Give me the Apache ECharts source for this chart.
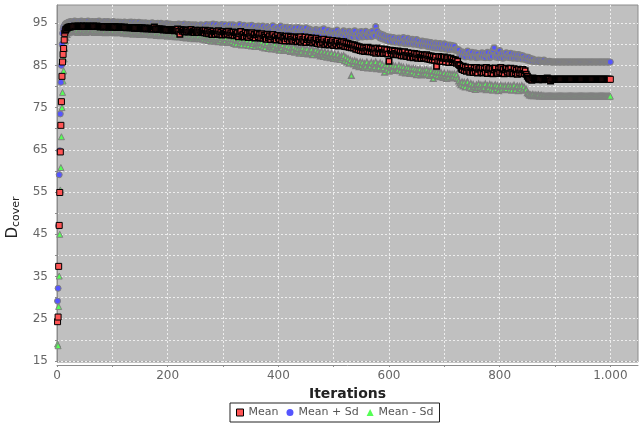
<!DOCTYPE html>
<html>
<head>
<meta charset="utf-8">
<script src="https://cdn.jsdelivr.net/npm/echarts@6/dist/echarts.min.js"></script>
<style>
  html, body { margin: 0; padding: 0; background: #fff; }
  #chart { width: 644px; height: 423px; }
</style>
</head>
<body>
<div id="chart"></div>
<script>
// iterations 1..15 are read one by one, after that every second iteration (16, 18, ... 1000)
const rampIterations = [1, 2, 3, 4, 5, 6, 7, 8, 9, 10, 11, 12, 13, 14, 15];
const bandStart = 16;
const bandStep = 2;

const xLabels = [0, 200, 400, 600, 800, 1000];
const xTicks = [0, 100, 200, 300, 400, 500, 600, 700, 800, 900, 1000];
const yLabels = [15, 25, 35, 45, 55, 65, 75, 85, 95];
const yTicks = [15, 20, 25, 30, 35, 40, 45, 50, 55, 60, 65, 70, 75, 80, 85, 90, 95];

const meanRamp = [24.3, 25.4, 37.4, 47.1, 54.9, 64.5, 70.8, 76.4, 82.4, 85.8, 87.6, 89.0, 91.0, 92.6, 93.2];
const plusRamp = [29.2, 32.2, 47.0, 59.1, 64.8, 73.5, 81.0, 85.0, 90.0, 92.6, 93.6, 94.1, 94.4, 94.6, 94.8];
const minusRamp = [19.0, 18.6, 27.9, 35.1, 45.0, 55.5, 60.8, 68.1, 75.0, 78.6, 81.3, 83.7, 86.5, 89.0, 90.8];

const meanBand = [
  93.5,93.8,94.0,94.1,94.1, 94.2,94.2,94.2,94.3,94.2, 94.2,94.3,94.2,94.2,94.3, 94.2,94.3,94.2,94.2,94.3, 94.2,94.2,94.3,94.2,94.2,
  94.3,94.2,94.2,94.3,94.2, 94.2,94.1,94.2,94.2,94.1, 94.2,94.2,94.1,94.2,94.1, 94.1,94.2,94.1,94.1,94.2, 94.1,94.0,94.1,94.1,94.0,
  94.1,94.0,94.0,94.1,94.0, 93.9,94.0,94.0,93.9,94.0, 93.9,93.9,93.8,93.9,93.9, 93.8,93.9,93.8,93.8,93.9, 93.7,93.8,93.8,93.7,93.8,
  93.7,93.8,93.6,93.7,93.7, 94.1,93.6,93.7,93.5,93.6, 93.6,93.5,93.6,93.4,93.5, 93.5,93.4,93.5,93.3,93.4, 93.5,93.3,93.4,93.2,93.4,
  93.4,93.6,93.1,92.4,93.5, 93.1,93.4,92.9,93.3,93.0, 93.4,92.9,93.2,93.5,92.9, 93.1,92.8,93.3,92.9,93.2, 92.8,93.3,92.9,93.0,93.2,
  92.7,93.3,92.6,93.1,92.5, 93.2,92.8,92.3,93.1,92.6, 92.3,93.0,92.5,93.2,92.4, 92.9,92.2,93.0,92.6,92.3, 92.9,92.4,93.1,92.2,92.7,
  92.2,92.9,92.0,92.8,92.3, 92.7,91.8,92.5,93.0,92.0, 92.4,91.7,92.8,92.1,92.6, 91.6,92.5,92.0,92.7,91.8, 92.3,91.5,92.2,92.6,91.7,
  92.3,91.5,92.5,91.4,92.1, 91.7,91.2,92.4,91.6,92.0, 91.1,91.8,92.3,91.3,91.8, 91.0,92.1,91.5,91.2,92.0, 90.9,91.7,91.4,90.8,91.9,
  91.3,91.9,90.8,91.7,91.2, 90.7,91.8,91.0,91.6,90.6, 91.4,90.9,91.8,90.5,91.2, 90.8,91.7,90.4,91.1,91.6, 90.6,91.0,91.5,90.3,91.0,
  90.6,91.4,90.2,91.0,90.6, 90.0,91.1,90.4,91.2,89.9, 90.6,90.2,91.0,89.8,90.5, 90.1,90.9,89.7,90.4,90.0, 90.8,89.6,90.3,89.9,90.6,
  89.8,90.6,89.5,90.3,89.4, 90.2,89.3,90.0,89.2,89.9, 89.1,89.8,88.8,89.6,88.7, 89.4,88.5,89.3,88.4,89.2, 88.3,89.1,88.5,89.3,88.2,
  89.1,88.2,89.0,88.1,88.9, 87.9,89.1,88.2,88.8,87.9, 88.9,88.1,87.8,88.8,88.0, 88.7,87.7,86.0,88.6,87.8, 88.5,87.6,88.4,87.8,87.5,
  88.4,87.5,88.2,87.3,88.1, 87.2,88.2,87.4,87.1,88.0, 87.3,86.9,87.9,87.2,86.8, 87.8,87.0,87.7,86.7,87.6, 87.0,86.6,87.5,86.8,87.4,
  86.7,87.5,86.5,87.3,86.4, 87.2,86.3,87.1,86.2,87.0, 84.8,86.1,87.1,86.0,86.9, 85.9,86.7,87.0,85.8,86.6, 86.8,85.7,86.5,86.7,85.8,
  86.4,85.7,86.3,85.5,86.0, 85.2,85.0,84.3,84.0,84.8, 83.8,84.6,83.6,84.5,83.8, 83.4,84.5,83.7,83.3,84.4, 83.6,84.5,83.2,84.1,84.3,
  83.4,84.4,83.2,84.2,83.4, 84.5,83.1,84.0,84.3,83.2, 84.2,83.0,83.9,84.4,83.3, 83.1,84.2,83.4,84.5,83.2, 84.1,83.0,83.9,84.3,83.4,
  84.1,83.1,84.3,83.4,83.0, 84.2,83.2,83.9,82.9,84.1, 83.2,83.9,83.0,84.0,83.1, 83.7,82.9,82.4,82.0,81.8, 81.7,81.5,82.0,81.7,81.9,
  81.7,81.8,81.6,81.7,81.9, 81.7,81.6,81.8,81.7,81.9, 82.0,81.8,81.7,81.3,81.7, 81.7,81.7,81.7,81.7,81.7, 81.7,81.7,81.7,81.7,81.7,
  81.7,81.7,81.7,81.7,81.7, 81.7,81.7,81.7,81.7,81.7, 81.7,81.7,81.7,81.7,81.7, 81.7,81.7,81.7,81.7,81.7, 81.7,81.7,81.7,81.7,81.7,
  81.7,81.7,81.7,81.7,81.7, 81.7,81.7,81.7,81.7,81.7, 81.7,81.7,81.7,81.7,81.7, 81.7,81.7,81.7
];

const plusBand = [
  94.9,95.0,95.2,95.1,95.4, 95.2,95.3,95.1,95.5,95.2, 95.2,95.4,95.1,95.3,95.5, 95.2,95.1,95.4,95.2,95.3, 95.5,95.1,95.3,95.2,95.4,
  95.3,95.1,95.4,95.2,95.1, 95.5,95.2,95.1,95.3,95.2, 95.4,95.1,95.2,95.4,95.1, 95.3,95.1,95.2,95.4,95.1, 95.2,95.0,95.3,95.1,95.2,
  95.2,94.9,95.1,95.3,95.0, 95.1,94.9,95.2,95.0,95.3, 94.9,95.0,95.2,94.8,95.1, 94.9,95.2,94.8,95.0,95.1, 94.9,94.7,95.1,94.9,94.8,
  95.0,94.7,94.9,95.1,94.7, 94.9,94.8,94.6,95.0,94.7, 94.8,95.0,94.6,94.8,94.7, 94.5,94.9,94.6,94.7,94.8, 94.5,94.7,94.6,94.4,94.7,
  94.6,94.4,94.8,94.5,94.7, 94.3,94.6,94.8,94.3,94.5, 94.2,94.7,94.4,94.2,94.6, 94.5,94.1,94.6,94.3,94.5, 94.1,94.4,94.6,94.2,94.3,
  94.5,93.9,94.7,94.1,93.8, 94.6,94.2,93.9,94.8,93.9, 94.4,94.7,94.0,93.7,94.5, 93.9,94.7,94.2,93.7,94.6, 94.0,93.6,94.4,94.6,93.8,
  94.2,94.6,93.6,94.4,93.8, 93.5,94.3,94.7,93.7,94.0, 93.4,94.5,93.8,94.1,93.5, 94.4,93.3,93.9,94.5,93.5, 93.9,94.2,93.3,93.8,94.3,
  93.5,94.1,93.2,94.3,93.4, 93.9,93.1,94.2,93.7,93.0, 94.0,93.4,94.4,93.1,93.8, 93.3,94.0,92.9,93.6,94.3, 93.1,93.8,93.0,93.5,94.1,
  93.1,93.8,92.8,94.0,93.0, 93.6,92.6,93.9,92.9,93.4, 94.0,92.5,93.3,93.8,92.7, 93.5,92.8,93.9,92.5,93.2, 93.6,92.4,93.4,92.7,93.2,
  92.6,93.5,92.3,93.3,92.5, 93.4,92.2,93.1,93.7,92.3, 92.9,92.1,93.3,92.5,92.2, 93.1,92.0,93.0,92.4,92.1, 93.4,92.2,92.8,91.9,92.6,
  92.2,93.2,91.9,92.9,92.4, 91.8,93.1,92.1,92.8,91.7, 92.6,93.2,91.9,92.4,91.6, 92.9,92.1,93.0,91.7,92.5, 92.0,93.1,91.8,92.6,92.2,
  92.8,91.8,93.1,92.3,92.0, 94.2,93.2,91.9,92.6,91.5, 92.4,91.3,92.2,91.1,91.9, 90.9,91.8,90.7,91.7,91.1, 90.6,91.6,90.9,90.5,91.4,
  90.7,91.5,90.3,91.2,90.4, 91.6,90.2,91.1,90.3,91.4, 90.1,91.0,90.2,91.2,90.0, 91.0,90.1,91.1,89.9,90.8, 90.0,89.7,90.8,89.8,90.6,
  89.7,90.6,89.5,90.5,89.4, 90.4,89.3,90.2,89.2,90.3, 89.1,90.1,89.2,90.2,89.0, 90.0,89.1,90.1,88.9,89.9, 89.0,88.7,89.8,88.8,89.7,
  88.8,89.6,88.6,88.9,88.5, 88.7,87.6,87.3,88.2,87.2, 88.0,87.0,87.9,88.4,87.1, 87.8,86.9,88.1,87.2,87.0, 88.0,86.8,87.8,87.1,86.9,
  87.2,88.0,86.9,87.8,86.8, 87.6,88.1,87.0,86.8,87.9, 87.1,88.6,89.2,87.3,86.9, 88.0,86.8,88.5,87.1,87.8, 86.7,87.7,87.0,88.0,86.9,
  87.6,86.8,87.9,87.0,86.7, 87.7,86.8,87.5,86.6,87.6, 86.8,87.4,86.5,87.3,86.7, 86.4,87.0,86.2,86.9,86.1, 86.6,86.0,86.5,85.9,86.3,
  86.1,85.9,86.3,85.8,86.2, 85.9,86.1,86.3,85.8,86.0, 85.8,85.9,86.0,85.8,85.8, 85.8,85.8,85.8,85.8,85.8, 85.8,85.8,85.8,85.8,85.8,
  85.8,85.8,85.8,85.8,85.8, 85.8,85.8,85.8,85.8,85.8, 85.8,85.8,85.8,85.8,85.8, 85.8,85.8,85.8,85.8,85.8, 85.8,85.8,85.8,85.8,85.8,
  85.8,85.8,85.8,85.8,85.8, 85.8,85.8,85.8,85.8,85.8, 85.8,85.8,85.8,85.8,85.8, 85.8,85.8,85.8
];

const minusBand = [
  91.6,92.3,92.7,92.9,93.0, 93.1,93.2,92.9,93.2,93.1, 93.2,92.8,93.2,93.1,93.2, 92.9,93.2,93.1,92.8,93.2, 93.1,93.2,92.9,93.1,93.2,
  93.1,92.8,93.2,93.1,92.9, 93.2,93.0,92.8,93.1,93.0, 93.1,92.7,93.1,93.0,92.9, 93.1,92.8,93.0,93.1,92.7, 93.0,92.9,92.7,93.0,92.9,
  92.9,93.0,92.6,92.9,92.8, 92.5,92.9,92.8,92.6,92.8, 92.7,92.4,92.8,92.7,92.5, 92.7,92.6,92.3,92.7,92.6, 92.7,92.4,92.6,92.5,92.3,
  92.6,92.5,92.2,92.5,92.4, 92.3,92.5,92.1,92.5,92.3, 92.4,92.0,92.3,92.4,92.1, 92.3,92.2,91.9,92.3,92.1, 92.2,91.9,92.0,92.2,91.8,
  92.2,91.8,92.3,91.8,92.1, 92.2,91.6,92.1,91.8,91.5, 92.1,91.7,92.0,91.4,92.0, 91.8,91.3,91.9,91.6,91.4, 91.9,91.3,91.8,91.5,91.2,
  91.7,91.0,91.9,91.4,90.9, 91.8,91.3,90.7,91.7,91.2, 90.8,91.7,91.1,90.6,91.5, 91.0,91.6,90.5,91.3,90.8, 91.5,90.4,91.2,90.7,91.3,
  90.6,91.3,90.2,91.1,90.0, 90.9,91.2,90.1,90.8,89.8, 90.7,91.1,89.9,90.5,90.9, 89.7,90.4,90.8,89.6,90.2, 90.7,89.5,90.3,90.0,89.5,
  90.4,89.6,90.5,89.3,90.1, 89.1,89.9,90.3,89.0,89.8, 89.5,88.9,89.9,89.3,90.0, 88.8,89.7,89.2,88.6,89.6, 89.1,89.8,88.5,89.4,88.8,
  89.6,88.6,89.3,88.3,89.2, 88.5,89.4,88.1,89.1,88.4, 88.9,87.9,88.9,88.3,89.1, 87.8,88.8,88.1,88.9,87.7, 88.5,88.0,88.8,87.5,88.4,
  88.1,88.7,87.5,88.4,87.8, 87.2,88.3,87.6,87.1,88.2, 87.5,86.9,88.0,87.3,86.8, 87.9,87.1,86.6,87.7,87.0, 86.5,87.6,86.8,86.4,87.2,
  86.8,87.3,86.1,86.9,85.8, 86.6,85.5,86.3,82.6,86.0, 85.3,86.1,84.9,85.9,85.2, 84.7,85.8,84.9,85.7,84.5, 85.4,84.8,85.8,84.4,85.3,
  84.8,85.7,84.3,85.4,84.6, 85.8,84.2,85.3,84.5,85.6, 84.1,85.2,84.4,83.4,85.1, 84.0,85.0,83.6,84.7,85.1, 83.9,84.9,83.8,84.8,84.0,
  83.9,85.0,83.7,84.7,83.4, 84.6,83.8,83.2,84.5,83.6, 84.4,83.1,84.2,83.4,84.3, 83.0,84.1,82.8,84.0,83.2, 84.1,82.7,83.8,83.0,83.9,
  83.1,84.0,82.8,83.7,82.6, 83.8,82.9,81.9,83.6,82.7, 83.5,82.5,83.4,82.3,83.3, 82.6,82.1,83.2,82.4,81.9, 83.1,82.2,83.0,82.0,82.9,
  82.3,83.0,82.1,82.8,81.9, 81.3,80.8,80.4,81.1,80.1, 81.0,79.9,80.8,81.1,80.0, 79.7,80.7,79.5,80.5,79.9, 79.3,80.4,79.7,80.6,79.8,
  80.4,79.4,80.3,79.7,80.6, 79.2,80.2,79.6,80.5,79.3, 80.3,79.1,80.1,80.4,79.4, 80.2,79.0,79.9,80.3,79.3, 80.1,79.2,80.2,79.4,80.0,
  80.2,79.3,80.1,79.1,80.0, 80.3,79.2,79.9,80.1,79.0, 80.0,79.4,80.2,79.2,79.9, 79.1,79.3,78.5,78.3,78.0, 78.0,77.8,78.1,77.8,78.0,
  77.9,77.8,78.0,77.7,77.8, 77.9,77.7,77.8,77.7,77.7, 77.7,77.7,77.7,77.7,77.7, 77.7,77.7,77.7,77.7,77.7, 77.7,77.7,77.7,77.7,77.7,
  77.7,77.7,77.7,77.7,77.7, 77.7,77.7,77.7,77.7,77.7, 77.7,77.7,77.7,77.7,77.7, 77.7,77.7,77.7,77.7,77.7, 77.7,77.7,77.7,77.7,77.7,
  77.7,77.7,77.7,77.7,77.7, 77.7,77.7,77.7,77.7,77.7, 77.7,77.7,77.7,77.7,77.7, 77.7,77.7,77.7
];

// single points keep the normal marker; inside the dense band a thicker outline
// makes the overlapped markers read as a solid outline-coloured strip
const single = { symbolSize: 6, itemStyle: { borderWidth: 1 } };

function toPoints(ramp, band) {
  const pts = ramp.map((v, i) => Object.assign({ value: [rampIterations[i], v] }, single));
  band.forEach((v, i) => {
    const x = bandStart + i * bandStep;
    pts.push(i === band.length - 1 ? Object.assign({ value: [x, v] }, single) : [x, v]);
  });
  return pts;
}

const chart = echarts.init(document.getElementById('chart'), null, { renderer: 'canvas' });

const font = 'DejaVu Sans';
const gridLine = { show: true, lineStyle: { color: '#eeeeee', type: [2, 2], width: 1 } };

chart.setOption({
  animation: false,
  backgroundColor: '#ffffff',
  grid: {
    left: 57, top: 5, right: 6, bottom: 61,
    containLabel: false,
    outerBoundsMode: 'none',
    show: true,
    backgroundColor: '#c0c0c0',
    borderColor: '#8c8c8c',
    borderWidth: 1
  },
  legend: {
    data: [
      { name: 'Mean', icon: 'rect', itemStyle: { borderWidth: 1, borderColor: '#000' } },
      { name: 'Mean + Sd', icon: 'circle', itemStyle: { borderWidth: 0 } },
      { name: 'Mean - Sd', icon: 'triangle', itemStyle: { borderWidth: 0 } }
    ],
    left: 230,
    top: 403,
    itemWidth: 7,
    itemHeight: 7,
    itemGap: 8,
    padding: [4, 6, 4, 6],
    borderColor: '#222',
    borderWidth: 1,
    textStyle: { fontFamily: font, fontSize: 11, color: '#555' }
  },
  xAxis: {
    type: 'value',
    min: 0,
    max: 1050,
    offset: 3,
    name: 'Iterations',
    nameLocation: 'middle',
    nameGap: 19,
    nameTextStyle: { fontFamily: font, fontSize: 14, fontWeight: 'bold', color: '#222' },
    axisLine: { show: true, lineStyle: { color: '#8c8c8c' } },
    axisTick: { show: true, length: 2, customValues: xTicks, lineStyle: { color: '#8c8c8c' } },
    axisLabel: {
      customValues: xLabels,
      margin: 5,
      fontFamily: font, fontSize: 12, color: '#666',
      formatter: v => v >= 1000 ? Math.floor(v / 1000) + '.' + String(v % 1000).padStart(3, '0') : String(v)
    },
    splitLine: gridLine
  },
  yAxis: {
    type: 'value',
    min: 14.75,
    max: 99.3,
    offset: 4,
    name: '{d|D}{s|cover}',
    nameLocation: 'middle',
    nameGap: 25,
    nameRotate: 90,
    nameTextStyle: {
      padding: [0, 68, 0, 0],
      rich: {
        d: { fontFamily: font, fontSize: 15, color: '#222', lineHeight: 18 },
        s: { fontFamily: font, fontSize: 11, color: '#222', lineHeight: 11, verticalAlign: 'bottom', padding: [8, 0, 0, 0] }
      }
    },
    axisLine: { show: true, lineStyle: { color: '#8c8c8c' } },
    axisTick: { show: true, length: 2, customValues: yTicks, lineStyle: { color: '#8c8c8c' } },
    axisLabel: { customValues: yLabels, margin: 5, fontFamily: font, fontSize: 12, color: '#666' },
    splitLine: gridLine
  },
  series: [
    {
      name: 'Mean',
      type: 'scatter',
      z: 4,
      symbol: 'rect',
      symbolSize: 5.5,
      itemStyle: { color: '#ff5555', borderColor: '#000000', borderWidth: 1.5, opacity: 1 },
      data: toPoints(meanRamp, meanBand)
    },
    {
      name: 'Mean + Sd',
      type: 'scatter',
      z: 3,
      symbol: 'circle',
      symbolSize: 5.5,
      itemStyle: { color: '#5555ff', borderColor: '#808080', borderWidth: 1.5, opacity: 1 },
      data: toPoints(plusRamp, plusBand)
    },
    {
      name: 'Mean - Sd',
      type: 'scatter',
      z: 2,
      symbol: 'triangle',
      symbolSize: 5.5,
      itemStyle: { color: '#55ff55', borderColor: '#808080', borderWidth: 1.5, opacity: 1 },
      data: toPoints(minusRamp, minusBand)
    }
  ]
});
</script>
</body>
</html>
